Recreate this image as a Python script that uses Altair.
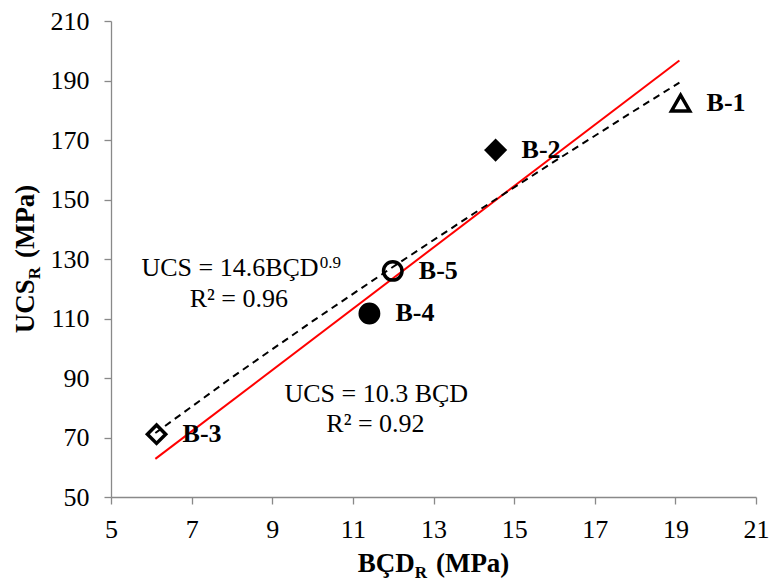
import altair as alt
import pandas as pd

# Specimens: BÇD (MPa) against UCS (MPa)
ids = ["B-1", "B-2", "B-3", "B-4", "B-5"]
bcd = [19.13, 14.54, 6.13, 11.41, 11.99]
ucs = [182.4, 166.6, 71.1, 111.7, 126.0]

# Linear trend through the origin: UCS = 10.3 BÇD
linear_x = [6.1, 19.1]
linear_y = [62.8, 196.7]

# Power trend: UCS = 14.6 BÇD^0.9
power_x = [6.1, 8.0, 10.0, 12.0, 14.0, 16.0, 18.0, 19.1]
power_y = [71.5, 90.2, 109.1, 127.4, 145.3, 162.8, 180.0, 189.3]

x_ticks = [5, 7, 9, 11, 13, 15, 17, 19, 21]
y_ticks = [50, 70, 90, 110, 130, 150, 170, 190, 210]

FONT = "Liberation Serif"
FS = 26
TITLE_FS = 27
SUB = 17
W, H = 645, 476
AXIS_GREY = "#898989"

# marker look per specimen
marker_shape = ["triangle-up", "diamond", "diamond", "circle", "circle"]
marker_fill = ["transparent", "black", "transparent", "black", "transparent"]
marker_size = [330, 340, 290, 370, 340]

points = pd.DataFrame({"id": ids, "bcd": bcd, "ucs": ucs})
linear_df = pd.DataFrame({"bcd": linear_x, "ucs": linear_y})
power_df = pd.DataFrame({"bcd": power_x, "ucs": power_y})

x_scale = alt.Scale(domain=[5, 21], nice=False, zero=False)
y_scale = alt.Scale(domain=[50, 210], nice=False, zero=False)

x_axis = alt.Axis(values=x_ticks, title=None, grid=False, labelFont=FONT,
                  labelFontSize=FS, labelColor="black", domainColor=AXIS_GREY,
                  tickColor=AXIS_GREY, tickSize=7, labelPadding=12,
                  domainWidth=1.3, tickWidth=1.3, labelFlush=False,
                  labelOverlap=False)
y_axis = alt.Axis(values=y_ticks, title=None, grid=False, labelFont=FONT,
                  labelFontSize=FS, labelColor="black", domainColor=AXIS_GREY,
                  tickColor=AXIS_GREY, tickSize=7, labelPadding=15,
                  domainWidth=1.3, tickWidth=1.3, labelFlush=False,
                  labelOverlap=False)

X = alt.X("bcd:Q", scale=x_scale, axis=x_axis)
Y = alt.Y("ucs:Q", scale=y_scale, axis=y_axis)

linear_line = alt.Chart(linear_df).mark_line(color="#FF0000", strokeWidth=2).encode(x=X, y=Y)
power_line = alt.Chart(power_df).mark_line(
    color="black", strokeWidth=2, strokeDash=[7, 5]).encode(x=X, y=Y)

markers = alt.Chart(points).mark_point(stroke="black", strokeWidth=3.5, opacity=1).encode(
    x=X, y=Y,
    shape=alt.Shape("id:N", scale=alt.Scale(domain=ids, range=marker_shape), legend=None),
    fill=alt.Fill("id:N", scale=alt.Scale(domain=ids, range=marker_fill), legend=None),
    size=alt.Size("id:N", scale=alt.Scale(domain=ids, range=marker_size), legend=None),
)

labels = alt.Chart(points).mark_text(
    align="left", baseline="middle", dx=26, font=FONT, fontSize=FS,
    fontWeight="bold", color="black").encode(x=X, y=Y, text="id:N")


def note(text, x, y, size=FS, align="center", weight="normal"):
    """Annotation placed in data coordinates."""
    return alt.Chart(pd.DataFrame({"t": [text]})).mark_text(
        align=align, baseline="alphabetic", font=FONT, fontSize=size,
        fontWeight=weight, color="black").encode(
        x=alt.datum(x, scale=x_scale), y=alt.datum(y, scale=y_scale), text="t:N")


equations = [
    note("UCS = 14.6BÇD", 10.15, 124.3, align="right"),
    note("0.9", 10.18, 126.9, size=SUB, align="left"),
    note("R² = 0.96", 8.17, 113.97),
    note("UCS = 10.3 BÇD", 11.58, 82.1),
    note("R² = 0.92", 11.56, 72.0),
]

# Times bold advance widths (em) for the axis titles
BOLD_W = {"U": 0.722, "C": 0.722, "S": 0.556, "B": 0.667, "Ç": 0.722,
          "D": 0.722, "R": 0.722, " ": 0.25, "(": 0.333, "M": 0.944,
          "P": 0.611, "a": 0.5, ")": 0.333}


def text_width(s, size):
    return sum(BOLD_W[c] for c in s) * size


def piece(text, x, y, size, angle=0):
    return alt.Chart(pd.DataFrame({"t": [text]})).mark_text(
        align="left", baseline="alphabetic", font=FONT, fontSize=size,
        fontWeight="bold", color="black", angle=angle).encode(
        x=alt.value(x), y=alt.value(y), text="t:N")


def axis_title(main, sub, tail, horizontal):
    w_main = text_width(main, TITLE_FS)
    w_sub = text_width(sub, SUB)
    gap = 9
    w_tail = text_width(tail, TITLE_FS)
    total = w_main + w_sub + gap + w_tail
    if horizontal:
        x0 = W / 2 - total / 2
        base = H + 74.5
        return [piece(main, x0, base, TITLE_FS),
                piece(sub, x0 + w_main, base + 6, SUB),
                piece(tail, x0 + w_main + w_sub + gap, base, TITLE_FS)]
    y0 = H / 2 + total / 2
    base = -77
    return [piece(main, base, y0, TITLE_FS, 270),
            piece(sub, base + 6, y0 - w_main, SUB, 270),
            piece(tail, base, y0 - w_main - w_sub - gap, TITLE_FS, 270)]


titles = axis_title("BÇD", "R", "(MPa)", True) + axis_title("UCS", "R", "(MPa)", False)

chart = alt.layer(linear_line, power_line, markers, labels, *equations, *titles).properties(
    width=W, height=H,
    autosize=alt.AutoSizeParams(type="none"),
    padding={"left": 111, "top": 21, "right": 14, "bottom": 86},
    background="white",
).configure_view(stroke=None)

chart.save("out.html", embed_options={"renderer": "svg", "actions": False})
